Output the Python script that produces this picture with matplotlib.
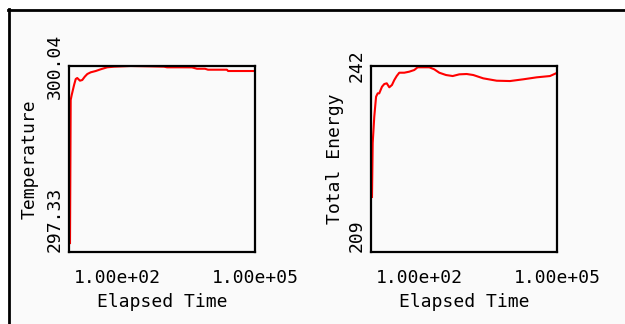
import matplotlib
matplotlib.use("Agg")
import matplotlib.pyplot as plt
from matplotlib.patches import Rectangle
from matplotlib.lines import Line2D

# values
temp_time = [9.46, 9.8, 10.3, 11.6, 12.6, 13.6, 15.6, 17.5, 19.8, 22.5, 26.7, 34.3,
             44, 61, 86, 198, 500, 1050, 1220, 2330, 4260, 5470, 8170, 9500,
             24600, 25900, 100000]
temp_vals = [297.46, 299.545, 299.617, 299.763, 299.85, 299.865, 299.826, 299.836,
             299.884, 299.923, 299.948, 299.967, 299.992, 300.021, 300.03, 300.04,
             300.035, 300.03, 300.021, 300.021, 300.02, 300.0, 300.0, 299.986,
             299.986, 299.967, 299.967]

energy_time = [9.46, 9.8, 10.6, 11.6, 12.6, 13.6, 15.6, 17.5, 19.8, 22.5, 25.7, 28.9,
               32.6, 37.1, 47.7, 61, 78.6, 93, 120, 167, 214, 275, 385, 538, 750,
               1086, 1510, 2490, 4880, 9500, 18500, 36200, 70400, 95000]
energy_vals = [218.76, 228.34, 233.0, 236.55, 237.15, 237.15, 238.32, 238.8, 238.93,
               238.22, 238.63, 239.51, 240.22, 240.81, 240.81, 240.99, 241.29, 241.77,
               241.77, 241.77, 241.41, 240.81, 240.4, 240.22, 240.52, 240.58, 240.4,
               239.81, 239.39, 239.33, 239.64, 239.99, 240.22, 240.7]

temp_ticks = [297.33, 300.04]
temp_ticklabels = ['297.33', '300.04']
energy_ticks = [209, 242]
energy_ticklabels = ['209', '242']
x_ticks = [1e2, 1e5]
x_ticklabels = ['1.00e+02', '1.00e+05']

plt.rcParams['font.family'] = ['DejaVu Sans Mono']
bg = '#fafafa'

fig = plt.figure(figsize=(6.25, 3.24), dpi=100)
fig.patch.set_facecolor('white')
W, H = 625, 324
fig.add_artist(Rectangle((9 / W, 0), 1, 1 - 10 / H, transform=fig.transFigure,
                         facecolor=bg, edgecolor='none', zorder=-10))
fig.add_artist(Line2D([8.5 / W, 8.5 / W], [0, 1 - 9 / H], transform=fig.transFigure,
                      color='black', lw=2))
fig.add_artist(Line2D([8 / W, 1], [1 - 9.5 / H, 1 - 9.5 / H], transform=fig.transFigure,
                      color='black', lw=2))


def panel(left_px, t, v, yticks, yticklabels, ylabel, label_x):
    ax = fig.add_axes([left_px / W, 72 / H, 186 / W, 186 / H])
    ax.set_facecolor(bg)
    ax.plot(t, v, color='#ff0000', lw=1.5)
    ax.set_xscale('log')
    ax.set_xlim(9, 1e5)
    ax.set_ylim(yticks[0], yticks[1])
    ax.set_xticks(x_ticks)
    ax.set_xticklabels(x_ticklabels)
    ax.minorticks_off()
    ax.set_yticks(yticks)
    ax.set_yticklabels(yticklabels, rotation=90)
    labs = ax.get_yticklabels()
    labs[0].set_va('bottom')
    labs[1].set_va('center')
    ax.tick_params(length=0, labelsize=13, colors='black')
    ax.tick_params(axis='x', pad=12)
    ax.tick_params(axis='y', pad=4)
    for s in ax.spines.values():
        s.set_linewidth(1.6)
    ax.set_xlabel('Elapsed Time', fontsize=13)
    ax.xaxis.set_label_coords(0.5, -0.22)
    ax.set_ylabel(ylabel, fontsize=13)
    ax.yaxis.set_label_coords(label_x, 0.5)
    return ax


panel(69, temp_time, temp_vals, temp_ticks, temp_ticklabels, 'Temperature', -0.165)
panel(371, energy_time, energy_vals, energy_ticks, energy_ticklabels, 'Total Energy', -0.145)

fig.savefig('out.png', dpi=100)
